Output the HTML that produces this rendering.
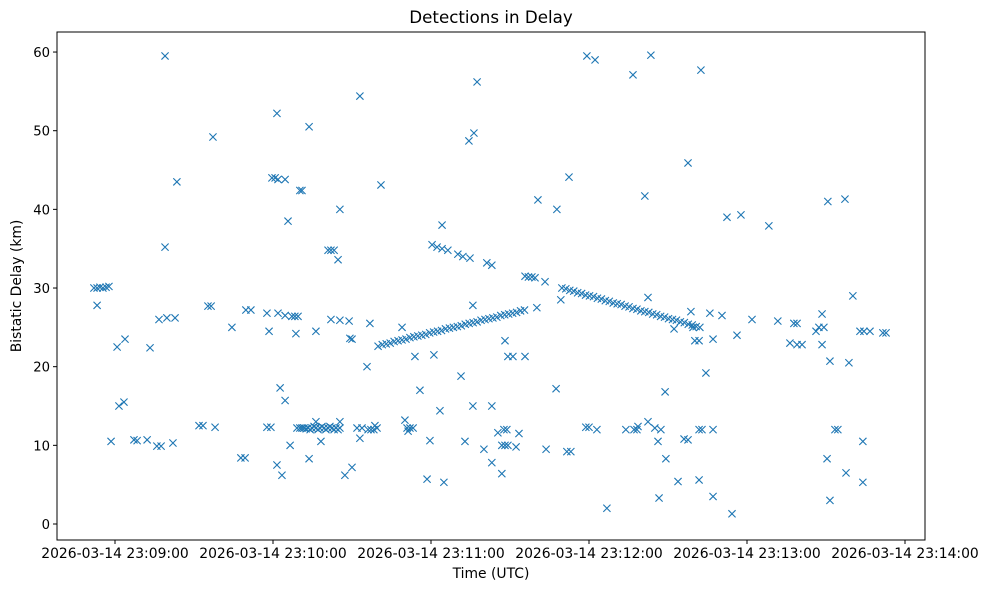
<!DOCTYPE html>
<html><head><meta charset="utf-8"><style>
body{margin:0;background:#fff;}
svg{display:block;font-family:"DejaVu Sans","Liberation Sans",sans-serif;}
</style></head><body>
<svg id="chart" width="987" height="590">
<rect x="0" y="0" width="987" height="590" fill="#fff"/>
<text x="491" y="23" font-size="16.7" text-anchor="middle">Detections in Delay</text>
<text x="491" y="578" font-size="13.9" text-anchor="middle">Time (UTC)</text>
<text x="21" y="286" font-size="13.9" text-anchor="middle" transform="rotate(-90 21 286)">Bistatic Delay (km)</text>
<g id="marks"></g>
<g id="axes"></g>
<rect x="57" y="32" width="868" height="508" fill="none" stroke="#000" stroke-width="1"/>
</svg>
<script>
// time in seconds after 2026-03-14 23:08:00 UTC, delay in km
const xTickSeconds = [60,120,180,240,300,360];
const xTickLabels = ["2026-03-14 23:09:00","2026-03-14 23:10:00","2026-03-14 23:11:00","2026-03-14 23:12:00","2026-03-14 23:13:00","2026-03-14 23:14:00"];
const yTicks = [0,10,20,30,40,50,60];
const detections = [
[52.0,30],[53.2,30],[54.3,30.1],[55.4,30],[56.6,30.1],[57.7,30.2],[53.2,27.8],[58.5,10.5],[60.8,22.5],[61.5,15],[63.4,15.5],[63.8,23.5],
[67.2,10.7],[68.4,10.6],[72.2,10.7],[73.3,22.4],[75.9,9.9],[77.5,9.9],[76.7,26],[79.0,59.5],[79.0,35.2],[79.7,26.2],[82.8,26.2],[82.0,10.3],[83.5,43.5],
[91.9,12.5],[93.4,12.5],[95.3,27.7],[96.5,27.7],[97.2,49.2],[98.0,12.3],[104.4,25],[107.8,8.4],[109.4,8.4],[109.7,27.2],[111.6,27.2],
[117.7,26.8],[118.5,24.5],[117.7,12.3],[119.2,12.3],[119.6,44],[120.8,44],[121.9,43.8],[121.5,52.2],[121.5,7.5],[121.9,26.8],[122.7,17.3],[123.4,6.2],
[124.6,15.7],[124.6,43.8],[124.6,26.5],[125.7,38.5],[126.5,10],[127.2,26.4],[128.3,26.4],[129.5,26.4],[128.7,24.2],[130.2,42.4],[131.0,42.4],[133.7,50.5],[133.7,8.3],
[129.1,12.2],[130.2,12.2],[131.0,12.2],[131.8,12.2],[132.6,12.1],[133.3,12.2],[134.1,12.0],[134.8,12.2],[135.6,12.4],[136.3,13],[136.3,12.2],[137.1,12.0],[137.8,12.2],[138.6,12.4],[139.4,12.2],[140.1,12.0],[140.9,12.2],[141.6,12.4],[142.4,12.2],[143.2,12.0],[143.9,12.2],[144.7,12.0],[145.4,13],[145.4,12.2],
[136.3,24.5],[138.2,10.5],[140.9,34.8],[142.0,34.8],[143.2,34.8],[142.0,26],[144.7,33.6],[145.4,40],[145.4,25.9],[147.3,6.2],[149.2,23.6],[150.0,23.5],[148.9,25.8],[150.0,7.2],
[153.0,54.4],[151.9,12.2],[153.8,12.2],[153.0,10.9],[155.7,20],[156.8,25.5],[156.1,12],[157.2,12],[158.3,12],[159.5,12.2],[158.7,12.5],[161.0,43.1],[159.9,22.6],
[161.5,22.8],[163,22.9],[164.5,23.0],[166,23.2],[167.5,23.3],[169,23.4],[170.5,23.5],[172,23.7],[173.5,23.8],[175,23.9],[176.5,24.0],[178,24.1],[179.5,24.3],[181,24.4],[182.5,24.5],[184,24.6],[185.5,24.8],[187,24.9],[188.5,25.0],[190,25.1],[191.5,25.2],[193,25.4],[194.5,25.5],[196,25.6],[197.5,25.7],[199,25.9],[200.5,26.0],[202,26.1],[203.5,26.2],[205,26.3],[206.5,26.5],[208,26.6],[209.5,26.7],[211,26.8],[212.5,26.9],[214,27.1],[215.5,27.2],
[215.7,31.5],[217,31.4],[218.3,31.4],[219.5,31.3],[223.3,30.8],
[229.7,30],[231.2,29.9],[232.7,29.7],[234.2,29.6],[235.7,29.4],[237.2,29.3],[238.7,29.1],[240.2,29.0],[241.7,28.9],[243.2,28.7],[244.7,28.6],[246.2,28.4],[247.7,28.3],[249.2,28.1],[250.7,28.0],[252.2,27.9],[253.7,27.7],[255.2,27.6],[256.7,27.4],[258.2,27.3],[259.7,27.1],[261.2,27.0],[262.7,26.9],[264.2,26.7],[265.7,26.6],[267.2,26.4],[268.7,26.3],[270.2,26.1],[271.7,26.0],[273.2,25.9],[274.7,25.7],[276.2,25.6],[277.7,25.4],[279.2,25.3],[280.7,25.1],[282.1,25.0],
[169.0,25],[170.1,13.2],[170.9,12.2],[171.3,11.8],[172.0,12.2],[173.2,12.2],[173.9,21.3],[175.8,17],[178.5,5.7],[179.6,10.6],[180.4,35.5],[181.1,21.5],[182.3,35.2],[184.2,35],[183.4,14.4],[184.2,38],[184.9,5.3],[186.4,34.8],
[190.2,34.3],[192.1,34],[194.8,33.8],[191.4,18.8],[192.9,10.5],[194.4,48.7],[196.3,49.7],[195.9,27.8],[195.9,15],[197.5,56.2],[200.1,9.5],[201.2,33.2],[203.1,32.9],[203.1,15],[203.1,7.8],
[205.4,11.6],[206.9,6.4],[207.7,12],[208.8,12],[206.9,10],[208.1,10],[209.2,10],[208.1,23.3],[209.2,21.3],[211.1,21.3],[212.3,9.8],[213.4,11.5],[215.7,21.3],
[220.2,27.5],[220.6,41.2],[223.7,9.5],[227.8,40],[227.5,17.2],[229.3,28.5],[232.4,44.1],[231.6,9.2],[233.1,9.2],
[239.2,59.5],[238.8,12.3],[240.0,12.3],[242.3,59],[243.0,12],[246.8,2],[256.7,57.1],[254.0,12],[257.1,12],[258.2,12],[258.6,12.4],[262.4,28.8],[261.2,41.7],[262.4,13],[263.5,59.6],
[265.0,12.2],[266.6,3.3],[266.2,10.5],[267.3,12],[269.2,8.3],[268.9,16.8],[272.3,24.8],[273.8,5.4],[276.1,10.8],[277.6,10.7],[277.6,45.9],[278.7,27],[279.5,25],
[280.2,23.3],[281.8,23.3],[281.8,12],[282.9,12],[281.8,5.6],[282.5,57.7],[284.4,19.2],[285.9,26.8],[287.1,23.5],[287.1,12],[287.1,3.5],[290.5,26.5],[292.4,39],[294.3,1.3],[296.2,24],[297.7,39.3],
[301.9,26],[308.3,37.9],[311.7,25.8],[316.3,23],[317.8,25.5],[319.0,25.5],[319.0,22.8],[320.9,22.8],[326.2,24.5],[327.3,25],[329.2,25],[328.5,26.7],[328.5,22.8],[330.4,8.3],[330.7,41],[331.5,20.7],[331.5,3],
[333.4,12],[334.5,12],[337.2,41.3],[337.6,6.5],[338.7,20.5],[340.2,29],[342.9,24.5],[344.4,24.5],[346.7,24.5],[344.0,10.5],[344.0,5.3],[351.6,24.3],[352.8,24.3]
];
const NS='http://www.w3.org/2000/svg';
const X0=115, PXS=158/60, Y0=524, PYK=7.866;
function xScale(t){return X0+(t-60)*PXS;}
function yScale(v){return Y0-v*PYK;}
const marks=document.getElementById('marks');
detections.forEach((d)=>{
  const x=xScale(d[0]), y=yScale(d[1]), r=3.6;
  const p=document.createElementNS(NS,'path');
  p.setAttribute('d',`M${x-r},${y-r}L${x+r},${y+r}M${x-r},${y+r}L${x+r},${y-r}`);
  p.setAttribute('stroke','#1f77b4');p.setAttribute('stroke-width','1.1');p.setAttribute('fill','none');
  
  
  marks.appendChild(p);
});
const axes=document.getElementById('axes');
yTicks.forEach(v=>{
  const y=yScale(v);
  const l=document.createElementNS(NS,'line');
  l.setAttribute('x1',57);l.setAttribute('x2',53);l.setAttribute('y1',y);l.setAttribute('y2',y);l.setAttribute('stroke','#000');
  
  
  axes.appendChild(l);
  const t=document.createElementNS(NS,'text');
  t.setAttribute('x',50);t.setAttribute('y',y+5);t.setAttribute('text-anchor','end');t.setAttribute('font-size','13.2');
  t.textContent=v;
  
  
  axes.appendChild(t);
});
xTickSeconds.forEach((s,i)=>{
  const x=xScale(s);
  const l=document.createElementNS(NS,'line');
  l.setAttribute('x1',x);l.setAttribute('x2',x);l.setAttribute('y1',540);l.setAttribute('y2',544);l.setAttribute('stroke','#000');
  
  
  axes.appendChild(l);
  const t=document.createElementNS(NS,'text');
  t.setAttribute('x',x);t.setAttribute('y',558);t.setAttribute('text-anchor','middle');t.setAttribute('font-size','13.9');
  t.textContent=xTickLabels[i];
  
  
  axes.appendChild(t);
});
</script>
</body></html>
